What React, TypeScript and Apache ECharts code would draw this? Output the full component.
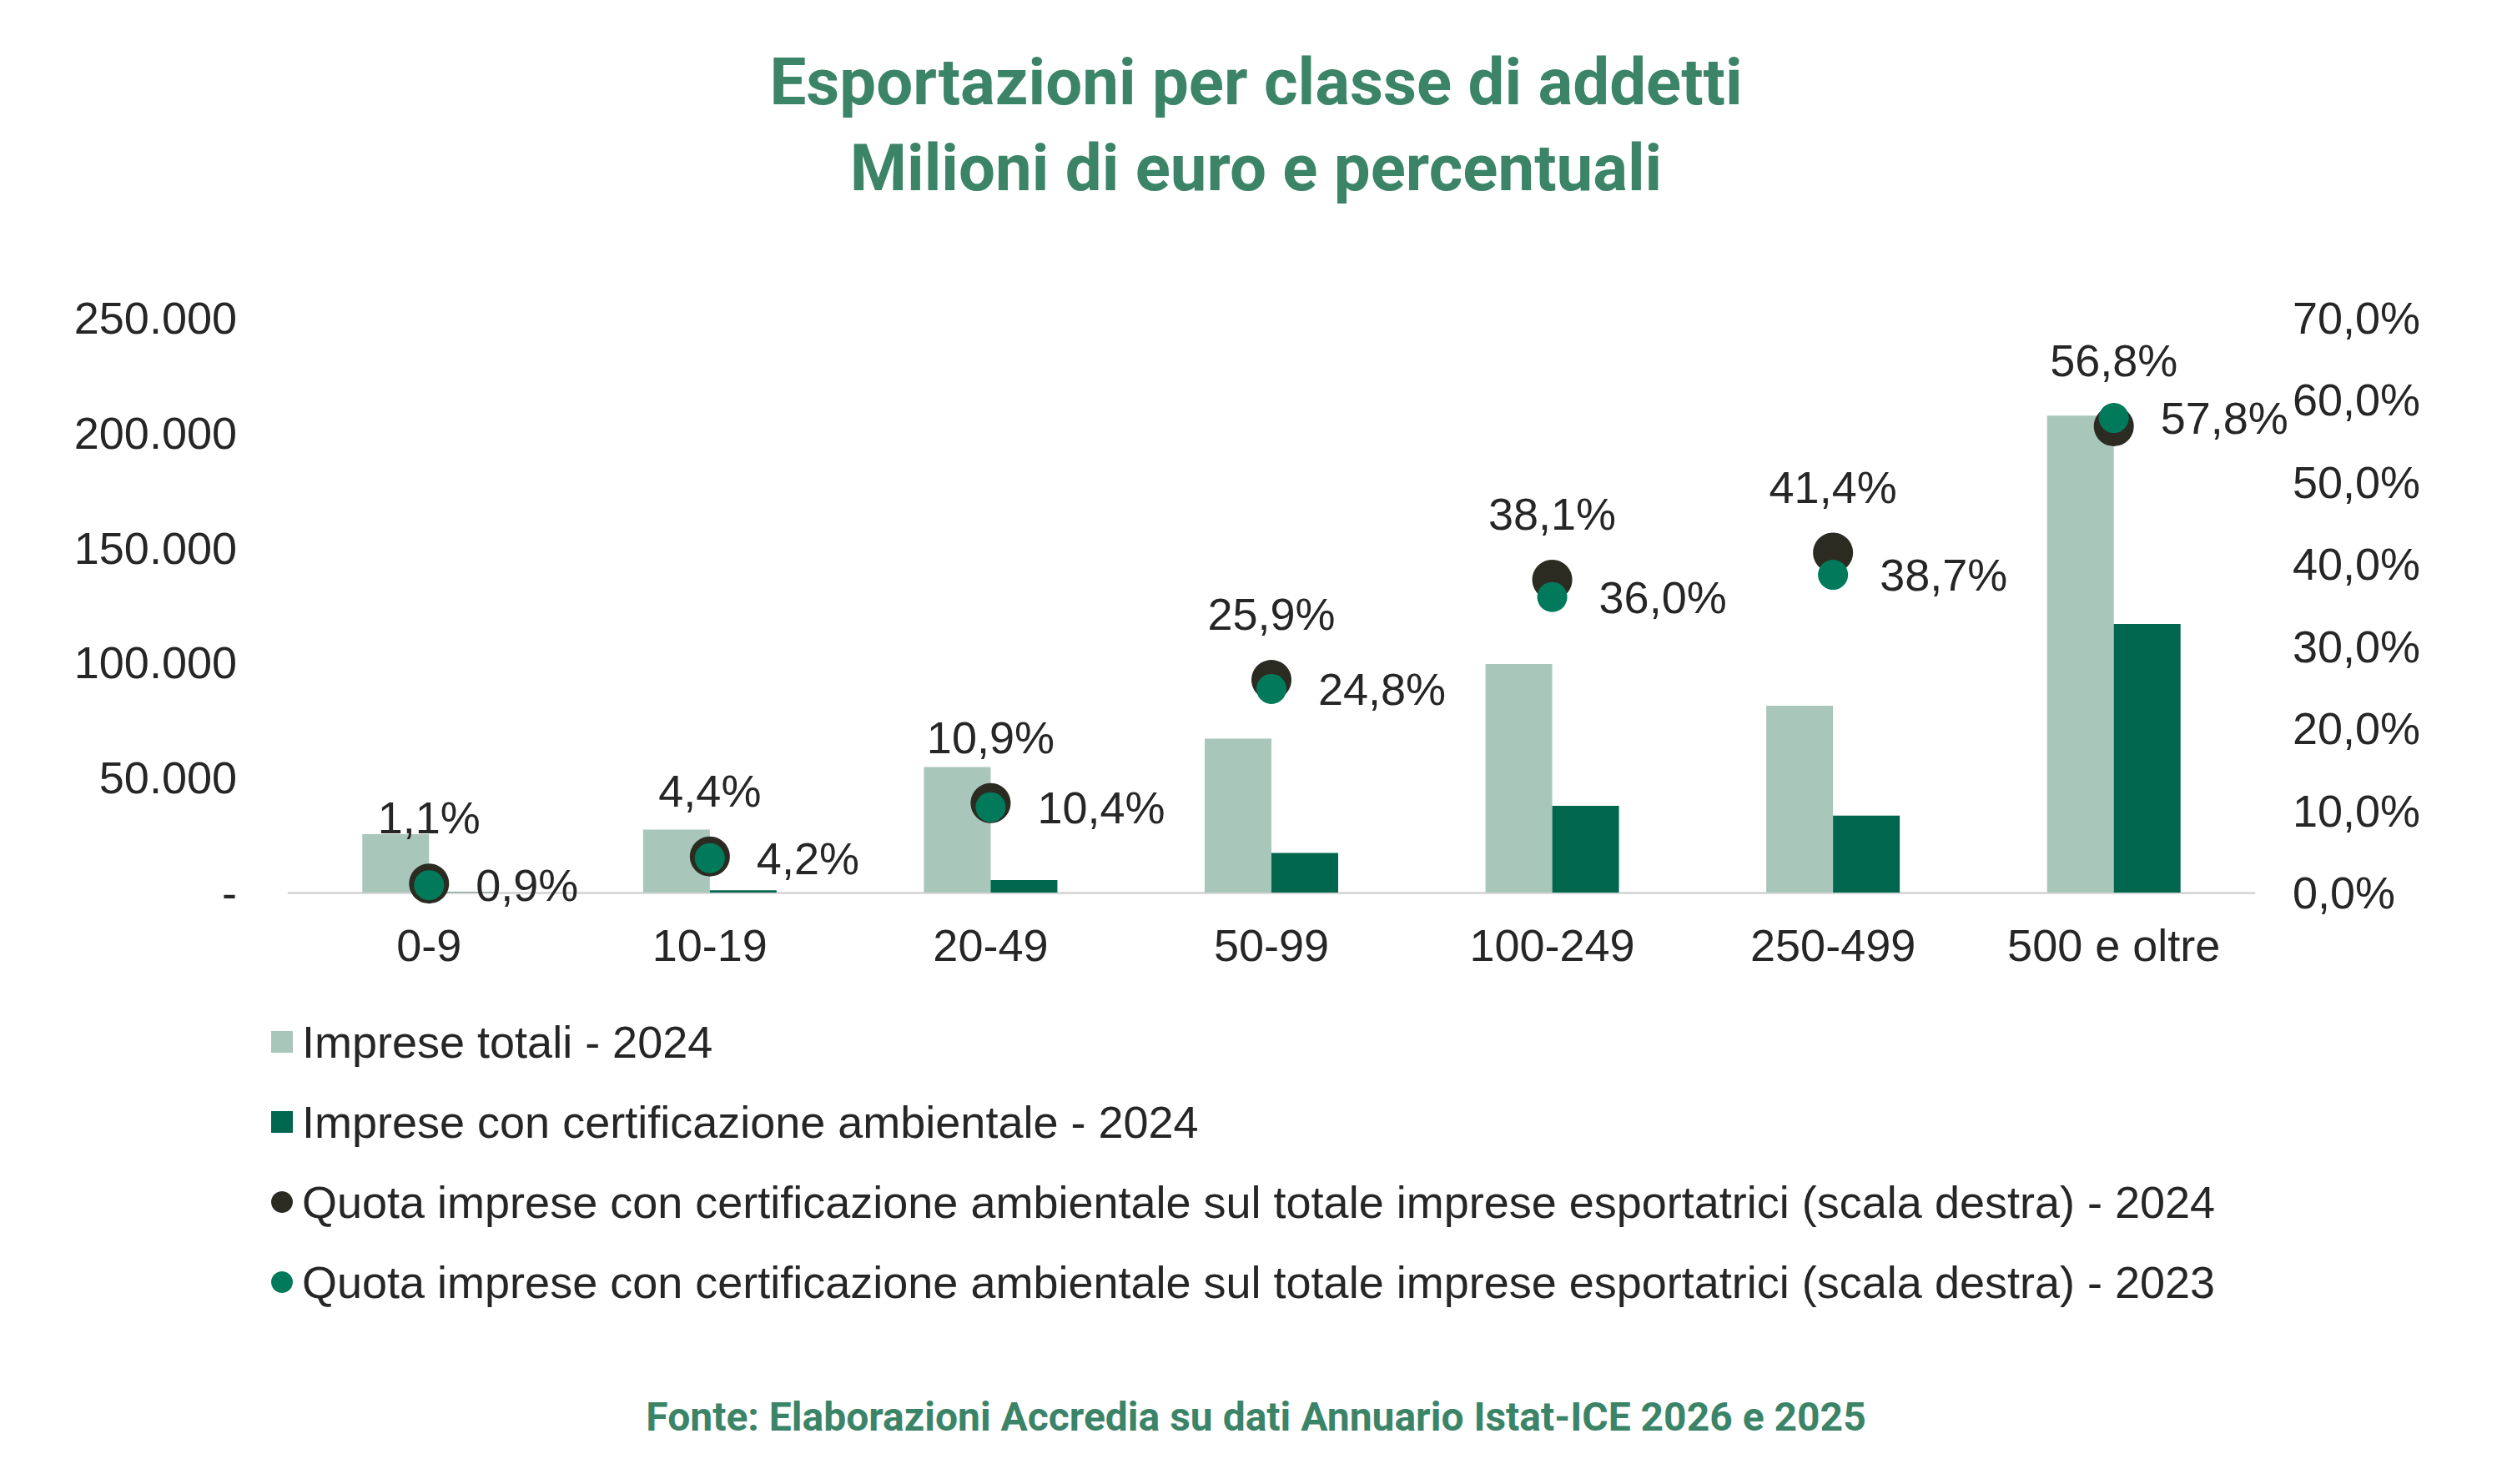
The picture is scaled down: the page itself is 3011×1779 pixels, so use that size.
import React, { useEffect, useRef } from 'react';
import * as echarts from 'echarts';

const categories = ['0-9', '10-19', '20-49', '50-99', '100-249', '250-499', '500 e oltre'];
const impreseTotali2024 = [25400, 27400, 54600, 66900, 99400, 81300, 207500];
const impreseCertificate2024 = [200, 1000, 5400, 17200, 37700, 33500, 116800];
const quota2024 = [1.1, 4.4, 10.9, 25.9, 38.1, 41.4, 56.8];
const quota2023 = [0.9, 4.2, 10.4, 24.8, 36.0, 38.7, 57.8];

const seriesNames = [
  'Imprese totali - 2024',
  'Imprese con certificazione ambientale - 2024',
  'Quota imprese con certificazione ambientale sul totale imprese esportatrici (scala destra) - 2024',
  'Quota imprese con certificazione ambientale sul totale imprese esportatrici (scala destra) - 2023',
];

const titleText = 'Esportazioni per classe di addetti\nMilioni di euro e percentuali';
const sourceText = 'Fonte: Elaborazioni Accredia su dati Annuario Istat-ICE 2026 e 2025';

const GREEN_TITLE = '#3b8468';
const TEXT = '#262626';
const FONT = '"Liberation Sans", Arial, sans-serif';

const fmtThousands = (v: number) =>
  v === 0 ? '-' : String(v).replace(/\B(?=(\d{3})+(?!\d))/g, '.');
const fmtPct = (v: number) => v.toFixed(1).replace('.', ',') + '%';

const App: React.FC = () => {
  const chartRef = useRef<HTMLDivElement>(null);

  useEffect(() => {
    if (!chartRef.current) return;
    const chart = echarts.init(chartRef.current, undefined, { renderer: 'svg' });

    const option: echarts.EChartsOption = {
      animation: false,
      backgroundColor: '#ffffff',
      textStyle: { fontFamily: FONT },
      title: [
        {
          text: titleText,
          left: 'center',
          top: 42,
          textStyle: {
            fontFamily: 'Roboto, sans-serif',
            fontWeight: 'bold',
            fontSize: 78,
            lineHeight: 103,
            color: GREEN_TITLE,
          },
        },
        {
          text: sourceText,
          left: 'center',
          top: 1665,
          textStyle: {
            fontFamily: 'Roboto, sans-serif',
            fontWeight: 'bold',
            fontSize: 48,
            lineHeight: 56,
            color: GREEN_TITLE,
          },
        },
      ],
      legend: {
        orient: 'vertical',
        left: 320,
        top: 1214,
        itemWidth: 26,
        itemHeight: 26,
        itemGap: 36,
        selectedMode: false,
        textStyle: {
          fontFamily: FONT,
          fontSize: 54,
          lineHeight: 60,
          color: TEXT,
          padding: [0, 0, 0, 6],
        },
        data: [
          { name: seriesNames[0], icon: 'rect' },
          { name: seriesNames[1], icon: 'rect' },
          { name: seriesNames[2], icon: 'circle' },
          { name: seriesNames[3], icon: 'circle' },
        ],
      },
      grid: { left: 346, right: 309, top: 381, bottom: 709 },
      xAxis: {
        type: 'category',
        data: categories,
        axisLine: { lineStyle: { color: '#d9d9d9', width: 3 } },
        axisTick: { show: false },
        axisLabel: { fontFamily: FONT, fontSize: 54, color: TEXT, margin: 36 },
      },
      yAxis: [
        {
          type: 'value',
          min: 0,
          max: 250000,
          interval: 50000,
          splitLine: { show: false },
          axisLine: { show: false },
          axisTick: { show: false },
          axisLabel: {
            fontFamily: FONT,
            fontSize: 54,
            color: TEXT,
            margin: 62,
            formatter: (v: number) => fmtThousands(v),
          },
        },
        {
          type: 'value',
          min: 0,
          max: 70,
          interval: 10,
          splitLine: { show: false },
          axisLine: { show: false },
          axisTick: { show: false },
          axisLabel: {
            fontFamily: FONT,
            fontSize: 54,
            color: TEXT,
            margin: 46,
            formatter: (v: number) => fmtPct(v),
          },
        },
      ],
      series: [
        {
          name: seriesNames[0],
          type: 'bar',
          barWidth: 80,
          barGap: '0%',
          itemStyle: { color: '#a9c6bb' },
          data: impreseTotali2024,
        },
        {
          name: seriesNames[1],
          type: 'bar',
          barWidth: 80,
          barGap: '0%',
          itemStyle: { color: '#00664e' },
          data: impreseCertificate2024,
        },
        {
          name: seriesNames[2],
          type: 'scatter',
          yAxisIndex: 1,
          symbolSize: 48,
          itemStyle: { color: '#2c2b22', opacity: 1 },
          label: {
            show: true,
            position: 'top',
            distance: 28,
            fontFamily: FONT,
            fontSize: 54,
            color: TEXT,
            formatter: (p: any) => fmtPct(p.value as number),
          },
          data: quota2024,
        },
        {
          name: seriesNames[3],
          type: 'scatter',
          yAxisIndex: 1,
          symbolSize: 36,
          itemStyle: { color: '#007a5a', opacity: 1 },
          label: {
            show: true,
            position: 'right',
            distance: 38,
            fontFamily: FONT,
            fontSize: 54,
            color: TEXT,
            formatter: (p: any) => fmtPct(p.value as number),
          },
          data: quota2023,
        },
      ],
    };

    chart.setOption(option);

    const handleResize = () => chart.resize();
    window.addEventListener('resize', handleResize);
    return () => {
      window.removeEventListener('resize', handleResize);
      chart.dispose();
    };
  }, []);

  return (
    <div
      ref={chartRef}
      style={{ position: 'fixed', left: 0, top: 0, width: '100vw', height: '100vh' }}
    />
  );
};

export default App;
